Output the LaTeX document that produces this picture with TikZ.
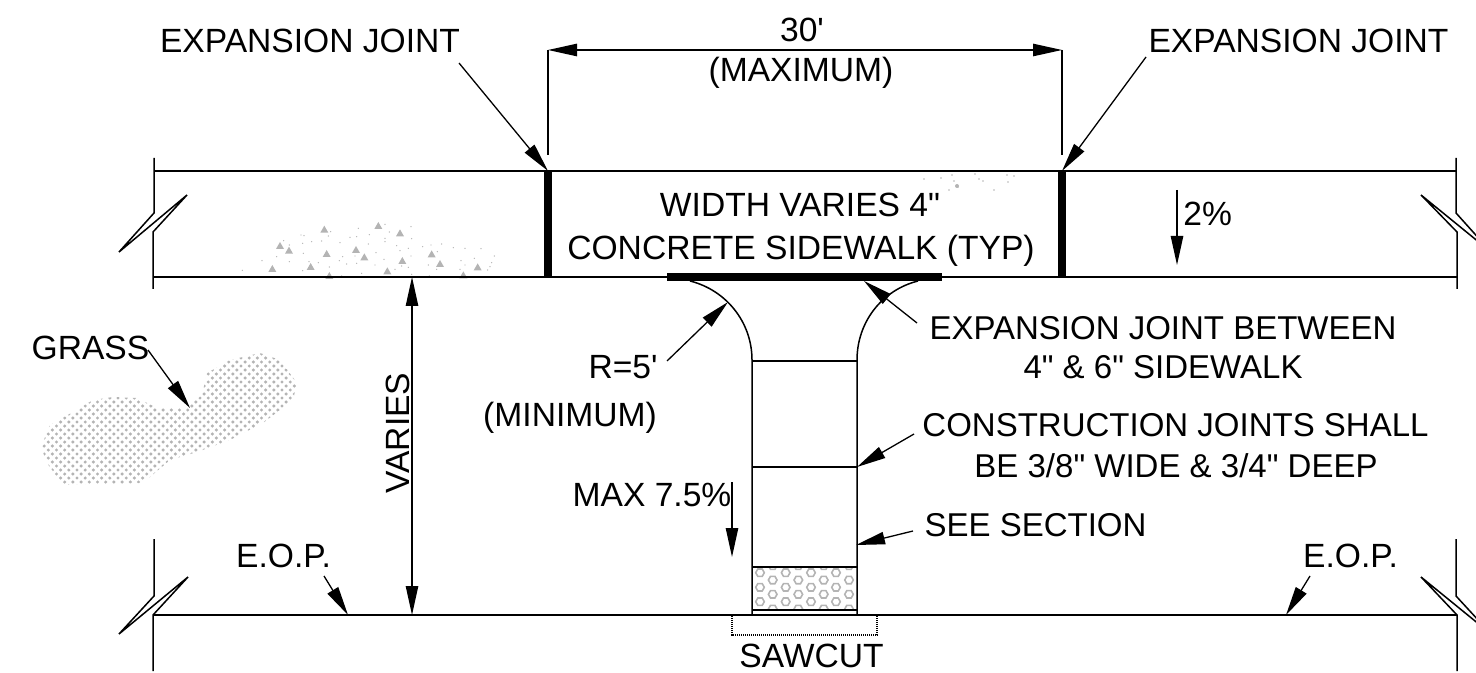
\documentclass[tikz,border=0pt]{standalone}
\usepackage{fontspec}
\setmainfont{Liberation Sans}[Ligatures=TeXOff]
\usetikzlibrary{arrows.meta}
\definecolor{stipple}{RGB}{180,180,180}
\tikzset{
  lbl/.style={inner sep=0pt,font=\fontsize{16.8}{20}\selectfont,text height=12pt,text depth=0pt},
  lblnarrow/.style={lbl,font=\fontsize{16.5}{20}\selectfont},
  edge/.style={line width=.75pt},
  thin edge/.style={line width=.6pt},
  joint/.style={line width=4pt},
  leader/.style={line width=.65pt,->},
  speck/.style={fill=stipple,draw=none}
}
\newcommand{\hexring}[2]{\draw[stipple,line width=.8pt] (#1+4.3,#2)--(#1+2.2,#2+3.7)--(#1-2.2,#2+3.7)--(#1-4.3,#2)--(#1-2.2,#2-3.7)--(#1+2.2,#2-3.7)--cycle;}
\begin{document}
\begin{tikzpicture}[x=.5pt,y=-.5pt,>={Triangle[length=14.5pt,width=6.2pt]}]
\useasboundingbox (0,0) rectangle (1476,673);
\clip (0,0) rectangle (1476,673);

% grass
\begin{scope}
\clip (41,447)--(50,425)--(73,412)--(93,400)--(113,397)--(137,398)--(157,408)--(187,408)--(202,395)--(207,373)--(230,360)--(260,353)--(280,360)--(297,383)--(293,400)--(263,423)--(230,440)--(197,452)--(170,460)--(143,483)--(63,485)--(47,463)--cycle;
\foreach \i in {0,...,32}
  \foreach \j in {0,...,17}{
    \fill[stipple] (36+\i*8.2,350+\j*8) circle (1.7);
    \fill[stipple] (40.1+\i*8.2,354+\j*8) circle (1.7);
  }
\end{scope}

% stipple in the slab
\begin{scope}[shift={(100,130)},scale=1/3]
\foreach \a/\b in {835/288,900/310,540/348,567/362,680/372,768/360,793/382,995/373,907/393,1020/402,1133/412,632/411,517/417,862/424,673/299,688/438,1090/436}
  \fill[speck] (\a-12,\b+9)--(\a+12,\b+9)--(\a,\b-12)--cycle;
\foreach \a/\b in {427/421,486/392,530/380,551/332,568/345,568/395,603/315,612/317,608/340,635/335,665/333,685/318,692/305,610/370,655/398,627/395,608/422,688/411,725/438,718/392,728/380,720/338,750/322,770/320,775/295,808/314,855/283,868/306,933/290,855/325,935/326,855/335,805/342,890/347,925/355,900/362,933/378,828/368,765/378,740/402,770/400,825/405,852/388,885/418,905/408,925/412,785/430,935/433,985/405,1010/418,988/438,968/350,993/345,1025/342,1060/353,1095/355,1143/356,1012/365,1123/385,1083/392,1095/405,1080/418,1183/378,1175/398,1170/410,1163/420}
  \fill[speck] (\a,\b) circle (2.2);
\end{scope}
\foreach \a/\b in {924/179,941/178,952/175,954/181,958/187,949/190,975/174,979/179,983/181,994/190,1007/175,1014/176,1008/182}
  \fill[speck] (\a,\b) circle (.8);
\fill[speck] (957,186) circle (2);

% slab and road edges
\draw[edge] (154,158)--(154,213)--(119,252)--(187,195)--(153,232)--(153,289);
\draw[edge] (1456,158)--(1456,213)--(1491,252)--(1421,195)--(1457,232)--(1457,289);
\draw[edge] (154,539)--(154,596)--(119,634)--(188,577)--(153,615)--(153,671);
\draw[edge] (1456,539)--(1456,596)--(1491,634)--(1421,577)--(1457,615)--(1457,671);
\draw[edge] (154,171)--(1456,171);
\draw[edge] (153,277)--(1457,277);
\draw[edge] (153,615)--(1457,615);

% ramp
\draw[edge] (690,281) .. controls (726,290) and (752,322) .. (752,360)--(752,615);
\draw[edge] (918,281) .. controls (882,290) and (857,322) .. (857,360)--(857,615);
\draw[thin edge] (752,361)--(857,361);
\draw[thin edge] (752,467)--(857,467);
\begin{scope}
\clip (752,567) rectangle (857,610);
\foreach \a in {760,785.7,811,836}{
  \foreach \b in {572.7,587.3,601.7}{
    \hexring{\a}{\b}
  }
}
\foreach \a in {772.7,798.3,823.7,849}{
  \foreach \b in {565.7,580,594.3,609}{
    \hexring{\a}{\b}
  }
}
\end{scope}
\draw[edge] (752,567)--(857,567);
\draw[edge] (752,610)--(857,610);
\draw[line width=.6pt,dash pattern=on .7pt off .3pt] (732,616)--(732,635)--(877,635)--(877,616);

% joints
\draw[joint] (548,171)--(548,277);
\draw[joint] (1062,171)--(1062,277);
\draw[joint] (667,277)--(942,277);

% labels
\node[lbl] (expleft) at (310,40.5) {EXPANSION JOINT};
\node[lbl] (expright) at (1298.5,40.5) {EXPANSION JOINT};
\node[lbl] (thirty) at (802,29.5) {30'};
\node[lbl] (maximum) at (801,70) {(MAXIMUM)};
\node[lbl] (widthvar) at (800,205) {WIDTH VARIES 4"};
\node[lbl] (concrete) at (801,247.5) {CONCRETE SIDEWALK (TYP)};
\node[lbl,anchor=west] (slope) at (1183,213.5) {2\%};
\node[lbl] (grass) at (90.5,347) {GRASS};
\node[lbl,rotate=90] (varies) at (397,433) {VARIES};
\node[lbl] (radius) at (623,367) {R=5'};
\node[lbl] (minimum) at (570,414) {(MINIMUM)};
\node[lbl] (maxslope) at (652,494) {MAX 7.5\%};
\node[lblnarrow] (expbetween) at (1163,328) {EXPANSION JOINT BETWEEN};
\node[lblnarrow] (sidewalk) at (1163,367) {4" \& 6" SIDEWALK};
\node[lblnarrow] (construction) at (1175.5,424) {CONSTRUCTION JOINTS SHALL};
\node[lblnarrow] (wide) at (1176,465.5) {BE 3/8" WIDE \& 3/4" DEEP};
\node[lblnarrow] (section) at (1035.5,524.5) {SEE SECTION};
\node[lbl] (eopleft) at (283.5,555) {E.O.P.};
\node[lbl] (eopright) at (1350.5,555) {E.O.P.};
\node[lbl] (sawcut) at (811.5,655) {SAWCUT};

% leader tips
\coordinate (jointtl) at (548,171);
\coordinate (jointtr) at (1062,171);
\coordinate (dimleft) at (548,50);
\coordinate (dimright) at (1062,50);
\coordinate (grasstip) at (190,408);
\coordinate (variestop) at (412,277);
\coordinate (variesbot) at (412,615);
\coordinate (radiustip) at (728,302);
\coordinate (bartip) at (864,281);
\coordinate (cjtip) at (857,467);
\coordinate (secttip) at (856,545);
\coordinate (eoptipl) at (348,615);
\coordinate (eoptipr) at (1286,615);

\draw[edge] (548,50)--(548,155);
\draw[edge] (1062,50)--(1062,155);
\draw[leader,<->] (dimleft)--(dimright);
\draw[leader] (459,63)--(jointtl);
\draw[leader] (1146,57)--(jointtr);
\draw[leader] (1177,190)--(1177,265);
\draw[leader] (148,350)--(grasstip);
\draw[leader,<->] (variestop)--(variesbot);
\draw[leader] (667,361)--(radiustip);
\draw[leader] (917,323)--(bartip);
\draw[leader] (914,434)--(cjtip);
\draw[leader] (913,531)--(secttip);
\draw[leader] (732,482)--(732,557);
\draw[leader] (324,576)--(eoptipl);
\draw[leader] (1310,576)--(eoptipr);

\end{tikzpicture}
\end{document}
